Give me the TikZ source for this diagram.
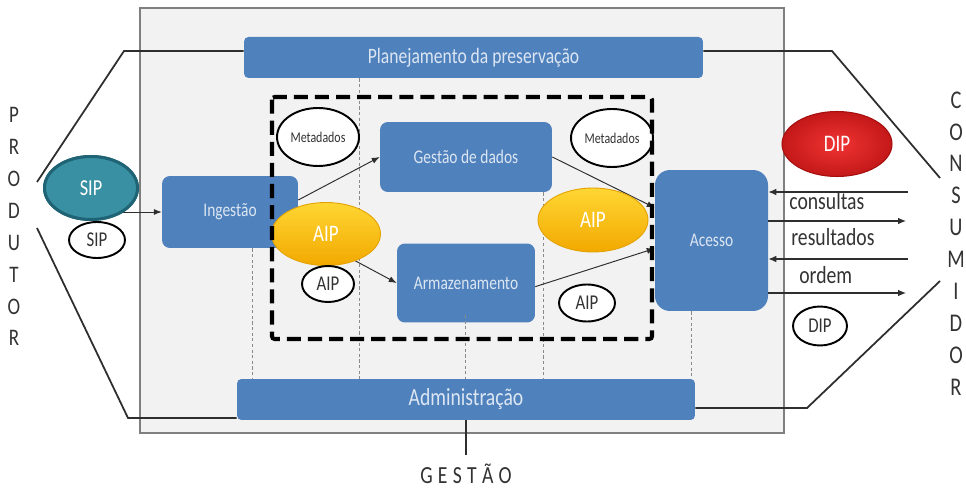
\documentclass[tikz,border=0pt]{standalone}
\usepackage{fontspec}
\setmainfont{Carlito}
\newfontfamily\cond[FakeStretch=0.8]{Carlito}
\usetikzlibrary{shapes.geometric,arrows.meta,shadings}
\definecolor{boxblue}{HTML}{4F81BD}
\definecolor{boxtext}{HTML}{DCE6F2}
\definecolor{bggray}{HTML}{F2F2F2}
\definecolor{framegray}{HTML}{7F7F7F}
\definecolor{txtgray}{HTML}{333333}
\definecolor{linegray}{HTML}{2E2E2E}
\definecolor{dotgray}{HTML}{8A8A8A}
\definecolor{yelT}{HTML}{FFD633}
\definecolor{yelB}{HTML}{F2A900}
\definecolor{yelD}{HTML}{E3A200}
\definecolor{tealF}{HTML}{3A90A3}
\definecolor{tealD}{HTML}{1F6474}
\definecolor{redI}{HTML}{F03434}
\definecolor{redO}{HTML}{C41818}
\definecolor{redD}{HTML}{A50F0F}
\begin{document}
\begin{tikzpicture}[x=0.02cm,y=-0.02cm,
  bar/.style={fill=boxblue, rounded corners=2.5pt, inner sep=0pt, text=boxtext},
  proc/.style={fill=boxblue, rounded corners=4.5pt, inner sep=0pt, text=boxtext,
    font=\cond\fontsize{11}{13}\selectfont},
  pkg/.style={ellipse, draw=black, line width=1.1pt, fill=white, inner sep=0pt,
    text=txtgray, font=\cond\fontsize{12}{14}\selectfont},
  meta/.style={ellipse, draw=black, line width=1.1pt, fill=white, inner sep=0pt,
    text=txtgray, font=\cond\fontsize{8.5}{10}\selectfont},
  aipbig/.style={ellipse, draw=yelD, line width=0.5pt, top color=yelT, bottom color=yelB,
    inner sep=0pt, text=white, font=\cond\fontsize{13.5}{15}\selectfont,
    minimum width=2.18cm, minimum height=1.26cm},
  hexline/.style={draw=linegray, line width=1pt},
  arr/.style={draw=linegray, line width=0.55pt, -{Latex[length=4.5pt,width=3.5pt]}},
  carr/.style={draw=linegray, line width=0.75pt, -{Latex[length=4.5pt,width=3.8pt]}},
  dotline/.style={draw=dotgray, line width=0.5pt, dash pattern=on 1.8pt off 1.4pt},
  dashbox/.style={draw=black, line width=2.3pt, dash pattern=on 8pt off 4pt, rounded corners=1.5pt},
  lbl/.style={text=txtgray, inner sep=0pt, font=\cond\fontsize{14}{16}\selectfont},
  lettxt/.style={text=txtgray, inner sep=0pt, font=\cond\fontsize{14}{16}\selectfont}
]
\useasboundingbox (0,0) rectangle (966,489);
\fill[white] (0,0) rectangle (966,489);
% frame
\draw[fill=bggray, draw=framegray, line width=0.6pt] (140,8) rectangle (784,433);

% bars and process boxes
\node[bar, minimum width=9.18cm, minimum height=0.82cm, font=\cond\fontsize{12.5}{14}\selectfont]
  (plan) at (473.5,57.5) {Planejamento da preservação};
\node[bar, minimum width=9.16cm, minimum height=0.82cm, font=\cond\fontsize{14}{16}\selectfont]
  (adm) at (466,399.5) {Administração};
\node[proc, minimum width=2.72cm, minimum height=1.44cm] (ing) at (230,212) {Ingestão};
\node[proc, minimum width=3.44cm, minimum height=1.40cm] (gest) at (466,157) {Gestão de dados};
\node[proc, minimum width=2.76cm, minimum height=1.58cm] (arm) at (466,283) {Armazenamento};
\node[proc, rounded corners=8.5pt, minimum width=2.26cm, minimum height=2.82cm] (ace) at (711.5,240.5) {Acesso};

% guide coordinates
\coordinate (g1) at (252,0);
\coordinate (g2) at (359,0);
\coordinate (g3) at (465,315);
\coordinate (g4) at (543,0);
\coordinate (g5) at (691,0);
% dotted guides
\draw[dotline] (ing.south -| g1) -- (adm.north -| g1);
\draw[dotline] (plan.south -| g2) -- (adm.north -| g2);
\draw[dotline] (g3) -- (adm.north -| g3);
\draw[dotline] (gest.south -| g4) -- (adm.north -| g4);
\draw[dotline] (ace.south -| g5) -- (adm.north -| g5);

% hexagon lines
\coordinate (l1) at (37,182);
\coordinate (l2) at (124,51);
\coordinate (l3) at (37,228);
\coordinate (l4) at (128,418);
\coordinate (r1) at (940,178);
\coordinate (r2) at (832,51);
\coordinate (r3) at (940,281);
\coordinate (r4) at (807,408);
\draw[hexline] (l1) -- (l2) -- (plan.west |- l2);
\draw[hexline] (l3) -- (l4) -- (adm.west |- l4);
\draw[hexline] (r1) -- (r2) -- (plan.east |- r2);
\draw[hexline] (r3) -- (r4) -- (adm.east |- r4);

% GESTAO
\coordinate (gs) at (466,455);
\draw[hexline] (adm.south) -- (gs);
\node[lettxt] (gestao) at (466,474) {G\hspace{3pt}E\hspace{3pt}S\hspace{3pt}T\hspace{3pt}Ã\hspace{3pt}O};

% internal arrows
\draw[arr] (ing.10) -- (gest.west);
\draw[arr] (ing.-15) -- (arm.west);
\draw[arr] (gest.east) -- (ace.150);
\draw[arr] (arm.-3) -- (ace.188);

% SIP
\node[ellipse, fill=tealF, draw=tealD, line width=1.7pt, inner sep=0pt,
  minimum width=1.86cm, minimum height=1.26cm] (sipbig) at (91,188) {};
\draw[arr] (sipbig.center |- ing.west) -- (ing.west);
\node[ellipse, fill=tealF, draw=tealD, line width=1.7pt, inner sep=0pt, text=white,
  font=\cond\fontsize{13}{15}\selectfont, minimum width=1.86cm, minimum height=1.26cm]
  (siplabel) at (sipbig) {SIP};
\node[pkg, minimum width=1.12cm, minimum height=0.72cm] (sipsm) at (97,240) {SIP};

% Metadados and AIP
\node[meta, minimum width=1.64cm, minimum height=1.16cm] (meta1) at (318,137) {Metadados};
\node[meta, minimum width=1.64cm, minimum height=1.16cm] (meta2) at (612,138) {Metadados};
\node[aipbig] (aip1) at (326,234) {AIP};
\node[aipbig, minimum width=2.2cm, minimum height=1.28cm] (aip2) at (593,220) {AIP};
\node[pkg, minimum width=1.04cm, minimum height=0.72cm] (aipsm1) at (328,284) {AIP};
\node[pkg, minimum width=1.12cm, minimum height=0.74cm] (aipsm2) at (587,303) {AIP};

% dashed box
\draw[dashbox] (272,97) rectangle (652,339);

% consumer side
\coordinate (c1) at (908,192);
\coordinate (c2) at (906,221);
\coordinate (c3) at (908,259);
\coordinate (c4) at (906,293);
\draw[carr] (c1) -- (ace.east |- c1);
\draw[carr] (ace.east |- c2) -- (c2);
\draw[carr] (c3) -- (ace.east |- c3);
\draw[carr] (ace.east |- c4) -- (c4);
\node[lbl, anchor=west] (consultas) at (789,201) {consultas};
\node[lbl, anchor=west] (resultados) at (791,237) {resultados};
\node[lbl, anchor=west] (ordem) at (799,275) {ordem};

\node[ellipse, draw=redD, line width=0.6pt, inner color=redI, outer color=redO, inner sep=0pt,
  text=white, font=\cond\fontsize{13.5}{15}\selectfont, minimum width=2.2cm, minimum height=1.3cm]
  (dipbig) at (837,144) {DIP};
\node[pkg, minimum width=1.08cm, minimum height=0.78cm] (dipsm) at (820,326) {DIP};

% side letters
\foreach \l [count=\i from 0] in {P,R,O,D,U,T,O,R}
  \node[lettxt, font=\cond\fontsize{13.5}{15}\selectfont] (prod\i) at (14,115+31.9*\i) {\l};
\foreach \l [count=\i from 0] in {C,O,N,S,U,M,I,D,O,R}
  \node[lettxt, font=\cond\fontsize{14.5}{16}\selectfont] (cons\i) at (956,100+31.9*\i) {\l};
\end{tikzpicture}
\end{document}
